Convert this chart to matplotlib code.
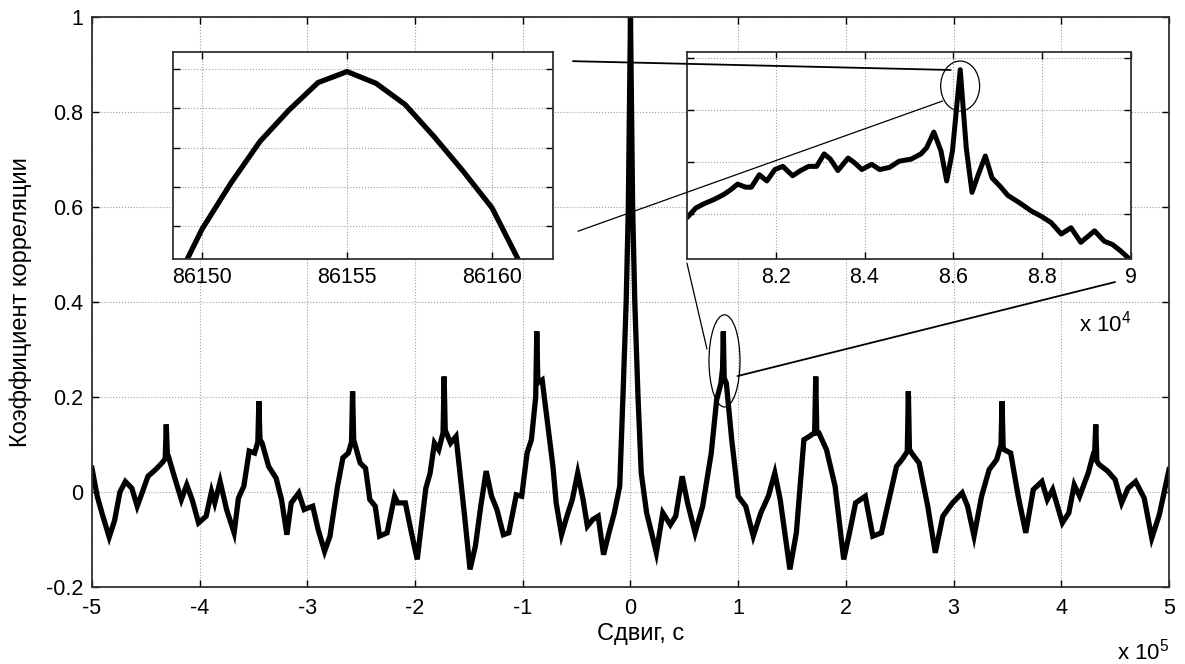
import matplotlib.pyplot as plt
from matplotlib.patches import Ellipse, ConnectionPatch
from matplotlib.ticker import FuncFormatter

# main curve, lag in units of 1e5 s
lag = [-5.00, -4.95, -4.90, -4.84, -4.79, -4.74, -4.69, -4.63, -4.58, -4.53,
       -4.48, -4.41, -4.35, -4.32, -4.31, -4.30, -4.29, -4.24, -4.17, -4.12,
       -4.07, -4.01, -3.94, -3.89, -3.86, -3.81, -3.75, -3.68, -3.64, -3.59,
       -3.54, -3.49, -3.46, -3.45, -3.44, -3.42, -3.36, -3.29, -3.24, -3.19,
       -3.15, -3.08, -3.03, -2.95, -2.90, -2.84, -2.79, -2.72, -2.67, -2.62,
       -2.59, -2.58, -2.57, -2.51, -2.46, -2.42, -2.37, -2.33, -2.26, -2.19,
       -2.16, -2.09, -2.04, -1.98, -1.90, -1.86, -1.82, -1.78, -1.74, -1.73,
       -1.72, -1.67, -1.62, -1.57, -1.54, -1.49, -1.44, -1.39, -1.34, -1.29,
       -1.24, -1.18, -1.13, -1.06, -1.01, -0.96, -0.92, -0.88, -0.87, -0.86,
       -0.82, -0.77, -0.72, -0.69, -0.64, -0.59, -0.54, -0.49, -0.44, -0.40,
       -0.35, -0.30, -0.25, -0.20, -0.15, -0.10, -0.07, -0.04, -0.02, 0.00,
       0.02, 0.04, 0.07, 0.10, 0.15, 0.20, 0.24, 0.30, 0.37, 0.42,
       0.48, 0.53, 0.60, 0.67, 0.75, 0.80, 0.84, 0.855, 0.862, 0.87,
       0.89, 0.94, 1.00, 1.07, 1.14, 1.21, 1.28, 1.34, 1.39, 1.48,
       1.54, 1.61, 1.66, 1.71, 1.72, 1.73, 1.75, 1.82, 1.90, 1.98,
       2.04, 2.09, 2.18, 2.25, 2.33, 2.40, 2.47, 2.52, 2.57, 2.58,
       2.59, 2.61, 2.68, 2.76, 2.83, 2.90, 2.99, 3.08, 3.13, 3.19,
       3.26, 3.33, 3.40, 3.44, 3.45, 3.46, 3.47, 3.53, 3.60, 3.67,
       3.74, 3.82, 3.87, 3.92, 4.01, 4.07, 4.12, 4.17, 4.25, 4.30,
       4.31, 4.32, 4.33, 4.35, 4.43, 4.50, 4.56, 4.62, 4.69, 4.77,
       4.84, 4.91, 5.00]
corr = [0.050, -0.010, -0.050, -0.095, -0.060, 0.000, 0.022, 0.008, -0.030, 0.001,
        0.033, 0.047, 0.061, 0.070, 0.142, 0.080, 0.075, 0.036, -0.016, 0.015,
        -0.016, -0.065, -0.051, 0.001, -0.023, 0.022, -0.037, -0.086, -0.013, 0.012,
        0.086, 0.082, 0.105, 0.191, 0.110, 0.103, 0.054, 0.029, -0.016, -0.090,
        -0.023, -0.002, -0.037, -0.030, -0.079, -0.125, -0.093, 0.012, 0.072, 0.082,
        0.105, 0.212, 0.110, 0.061, 0.050, -0.016, -0.030, -0.093, -0.086, -0.009,
        -0.023, -0.023, -0.079, -0.142, 0.008, 0.040, 0.103, 0.089, 0.125, 0.243,
        0.130, 0.103, 0.117, 0.012, -0.051, -0.163, -0.114, -0.030, 0.044, -0.009,
        -0.037, -0.090, -0.086, -0.006, -0.009, 0.082, 0.110, 0.200, 0.338, 0.230,
        0.236, 0.145, 0.054, -0.023, -0.090, -0.051, -0.016, 0.040, -0.016, -0.072,
        -0.058, -0.051, -0.132, -0.086, -0.044, 0.012, 0.200, 0.400, 0.600, 1.000,
        0.600, 0.400, 0.200, 0.040, -0.044, -0.090, -0.128, -0.044, -0.069, -0.051,
        0.033, -0.023, -0.086, -0.030, 0.082, 0.194, 0.229, 0.260, 0.338, 0.240,
        0.229, 0.110, -0.009, -0.030, -0.093, -0.044, -0.009, 0.040, -0.016, -0.163,
        -0.086, 0.110, 0.117, 0.125, 0.243, 0.124, 0.124, 0.089, 0.012, -0.142,
        -0.079, -0.023, -0.009, -0.093, -0.086, -0.016, 0.054, 0.068, 0.085, 0.212,
        0.090, 0.082, 0.061, -0.030, -0.128, -0.051, -0.023, -0.002, -0.030, -0.093,
        -0.009, 0.047, 0.068, 0.100, 0.191, 0.095, 0.089, 0.082, -0.009, -0.086,
        0.005, 0.022, -0.016, 0.005, -0.065, -0.044, 0.015, -0.009, 0.040, 0.082,
        0.085, 0.142, 0.065, 0.058, 0.044, 0.026, -0.023, 0.008, 0.022, -0.013,
        -0.097, -0.048, 0.047]

# right inset: 80000..90000 s, lag in units of 1e4 s
zoom_lag = [8.003, 8.020, 8.038, 8.060, 8.083, 8.100, 8.114, 8.132, 8.145, 8.163,
            8.180, 8.198, 8.216, 8.238, 8.256, 8.274, 8.292, 8.309, 8.323, 8.340,
            8.363, 8.376, 8.394, 8.416, 8.434, 8.456, 8.478, 8.505, 8.527, 8.540,
            8.556, 8.572, 8.585, 8.598, 8.6155, 8.629, 8.642, 8.656, 8.672, 8.687,
            8.705, 8.723, 8.749, 8.776, 8.798, 8.820, 8.843, 8.865, 8.887, 8.918,
            8.940, 8.958, 8.976, 8.994]
zoom_corr = [0.198, 0.206, 0.210, 0.214, 0.219, 0.224, 0.229, 0.226, 0.226, 0.238,
             0.232, 0.243, 0.246, 0.237, 0.242, 0.246, 0.246, 0.258, 0.253, 0.242,
             0.254, 0.250, 0.243, 0.248, 0.243, 0.245, 0.251, 0.253, 0.258, 0.264,
             0.279, 0.261, 0.232, 0.261, 0.339, 0.264, 0.221, 0.238, 0.256, 0.235,
             0.227, 0.218, 0.211, 0.203, 0.198, 0.192, 0.181, 0.187, 0.173, 0.184,
             0.174, 0.171, 0.165, 0.158]

# left inset: samples around the peak
peak_lag = [86149, 86150, 86151, 86152, 86153, 86154, 86155, 86156, 86157,
            86158, 86159, 86160, 86161]
peak_corr = [0.33621, 0.33696, 0.33755, 0.33808, 0.33848, 0.33883, 0.33897,
             0.33882, 0.33855, 0.33814, 0.33770, 0.33723, 0.33650]

plt.rcParams['font.family'] = ['Liberation Sans', 'DejaVu Sans']
plt.rcParams['mathtext.fontset'] = 'custom'
plt.rcParams['mathtext.rm'] = 'Liberation Sans'
plt.rcParams['font.size'] = 15.5


def matlab_style(ax, pad=6):
    ax.grid(True, linestyle=':', color='#a0a0a0', linewidth=0.8)
    ax.tick_params(direction='in', length=5, width=1, top=True, right=True,
                   pad=pad, labelsize=15.5)
    for s in ax.spines.values():
        s.set_linewidth(1.3)
        s.set_color('#303030')


fig = plt.figure(figsize=(11.85, 6.64), dpi=100)

ax = fig.add_axes([0.0776, 0.116, 0.9089, 0.8584])
ax.plot([v * 1e5 for v in lag], corr, color='black', linewidth=3.8,
        solid_joinstyle='miter')
ax.set_xlim(-5e5, 5e5)
ax.set_ylim(-0.2, 1)
ax.set_xticks([i * 1e5 for i in range(-5, 6)])
ax.set_yticks([-0.2, 0, 0.2, 0.4, 0.6, 0.8, 1])
ax.xaxis.set_major_formatter(FuncFormatter(lambda v, p: f'{v / 1e5:g}'))
ax.yaxis.set_major_formatter(FuncFormatter(lambda v, p: f'{v:g}'))
matlab_style(ax, pad=8)
ax.tick_params(axis='y', pad=6)
ax.set_xlabel('Сдвиг, с', fontsize=17)
ax.set_ylabel('Коэффициент корреляции', fontsize=17)
ax.xaxis.set_label_coords(0.509, -0.064)
ax.yaxis.set_label_coords(-0.056, 0.5)
ax.text(1.0, -0.114, r'x 10$^{5}$', transform=ax.transAxes, ha='right', va='center', fontsize=16)

# left inset
ax_l = fig.add_axes([0.146, 0.610, 0.3207, 0.3117])
ax_l.plot(peak_lag, peak_corr, color='black', linewidth=3.8)
ax_l.set_xlim(86149, 86162.1)
ax_l.set_ylim(0.33658, 0.33922)
ax_l.set_xticks([86150, 86155, 86160])
ax_l.set_yticks([0.3370, 0.3375, 0.3380, 0.3385, 0.3390])
ax_l.set_yticklabels([])
matlab_style(ax_l)

# right inset
ax_r = fig.add_axes([0.5797, 0.610, 0.3747, 0.3117])
ax_r.plot([v * 1e4 for v in zoom_lag], zoom_corr, color='black', linewidth=3.6)
ax_r.set_xlim(80000, 90000)
ax_r.set_ylim(0.157, 0.356)
ax_r.set_xticks([82000, 84000, 86000, 88000, 90000])
ax_r.set_yticks([0.2, 0.25, 0.3, 0.35])
ax_r.set_yticklabels([])
ax_r.xaxis.set_major_formatter(FuncFormatter(lambda v, p: f'{v / 1e4:g}'))
matlab_style(ax_r)
ax_r.text(1.0, -0.31, r'x 10$^{4}$', transform=ax_r.transAxes, ha='right', va='center', fontsize=16)

# callout ellipses
ax_r.add_patch(Ellipse((86153, 0.3233), 877, 0.048, fill=False, color='black',
                       linewidth=0.9, clip_on=False))
ax.add_patch(Ellipse((0.873e5, 0.276), 0.288e5, 0.194, fill=False, color='black',
                     linewidth=0.9, zorder=5))

# callout lines
links = [
    ((-0.534e5, 0.907), ax, (85940, 0.3387), ax_r, 1.3),
    ((-0.487e5, 0.549), ax, (85760, 0.3089), ax_r, 0.9),
    ((80000, 0.153), ax_r, (0.710e5, 0.301), ax, 0.9),
    ((0.9935e5, 0.244), ax, (4.499e5, 0.442), ax, 1.3),
]
for pa, axa, pb, axb, lw in links:
    con = ConnectionPatch(xyA=pa, coordsA=axa.transData, xyB=pb, coordsB=axb.transData,
                          color='black', linewidth=lw)
    fig.add_artist(con)

fig.savefig('out.png', dpi=100)
